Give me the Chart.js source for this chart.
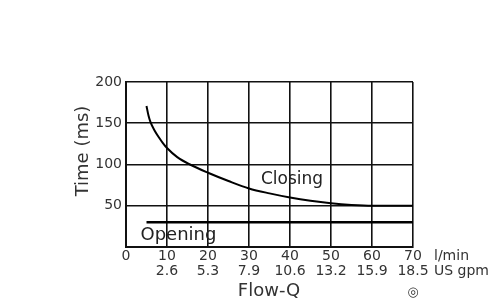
<!DOCTYPE html>
<html><head><meta charset="utf-8">
<script src="https://cdn.jsdelivr.net/npm/chart.js@4"></script>
<style>html,body{margin:0;padding:0;background:#fff}#wrap{width:500px;height:305px}</style>
</head><body><div id="wrap"><canvas id="c" width="500" height="305"></canvas></div>
<script>
const flowLmin = ['0','10','20','30','40','50','60','70'];
const flowGpm = ['','2.6','5.3','7.9','10.6','13.2','15.9','18.5'];
const yTicks = [0,50,100,150,200];
const closingX = [5,5.5,6,7,8,9,10,12.5,15.6,20,25,30,35,40,45,50,55,60,65,70];
const closingY = [171,159,151,141,133,126,120,109,100,90,80,71,65,60,56,53,51,50,50,50];
const openingX = [5,70];
const openingY = [30,30];

const FONT = "'DejaVu Sans', sans-serif";
const textPlugin = {
  id:'texts',
  afterDraw(chart){
    const ctx = chart.ctx; const a = chart.chartArea;
    const xs = chart.scales.x, ys = chart.scales.y;
    ctx.save();
    ctx.fillStyle = '#222';
    ctx.textBaseline = 'middle';
    ctx.font = '17px ' + FONT;
    ctx.textAlign = 'center';
    ctx.fillText('Closing', xs.getPixelForValue(40.5), ys.getPixelForValue(82));
    ctx.font = '18px ' + FONT;
    ctx.fillText('Opening', xs.getPixelForValue(12.8), ys.getPixelForValue(14));
    ctx.font = '14px ' + FONT;
    ctx.textAlign = 'left';
    ctx.fillStyle = '#333';
    ctx.fillText('l/min', a.right + 21, 256.5);
    ctx.fillText('US gpm', a.right + 21, 271.5);
    ctx.font = '18px ' + FONT;
    ctx.textAlign = 'center';
    ctx.fillText('Flow-Q', 269, 291);
    ctx.font = '13px ' + FONT;
    ctx.fillText('◎', a.right, 293);
    ctx.translate(83, 151);
    ctx.rotate(-Math.PI/2);
    ctx.font = '18px ' + FONT;
    ctx.fillText('Time (ms)', 0, 0);
    ctx.restore();
  }
};

new Chart(document.getElementById('c'), {
  type:'scatter',
  data:{datasets:[
    {label:'Closing', data: closingX.map((x,i)=>({x, y:closingY[i]})), showLine:true, borderColor:'#000', borderWidth:2, pointRadius:0, cubicInterpolationMode:'monotone'},
    {label:'Opening', data: openingX.map((x,i)=>({x, y:openingY[i]})), showLine:true, borderColor:'#000', borderWidth:2.5, pointRadius:0}
  ]},
  options:{
    responsive:false, animation:false,
    layout:{padding:{top:82, right:87, left:0, bottom:0}},
    plugins:{legend:{display:false}, tooltip:{enabled:false}},
    scales:{
      x:{type:'linear', min:0, max:70,
        ticks:{stepSize:10, color:'#333', font:{family:FONT, size:14, lineHeight:1.07}, padding:2, maxRotation:0,
          callback:(v)=>{const i=Math.round(v/10); return [flowLmin[i], flowGpm[i]];}},
        grid:{color:'#111', lineWidth:1.6, drawTicks:false},
        border:{color:'#111', width:2},
        afterFit(s){s.height = 58;}
      },
      y:{type:'linear', min:0, max:200,
        afterBuildTicks(s){s.ticks = yTicks.map(v=>({value:v}));},
        ticks:{color:'#333', font:{family:FONT, size:14}, padding:4,
          callback:(v)=> v===0 ? '' : String(v)},
        grid:{color:'#111', lineWidth:1.6, drawTicks:false},
        border:{color:'#111', width:2},
        afterFit(s){s.width = 126;}
      }
    }
  },
  plugins:[textPlugin]
});
</script></body></html>
